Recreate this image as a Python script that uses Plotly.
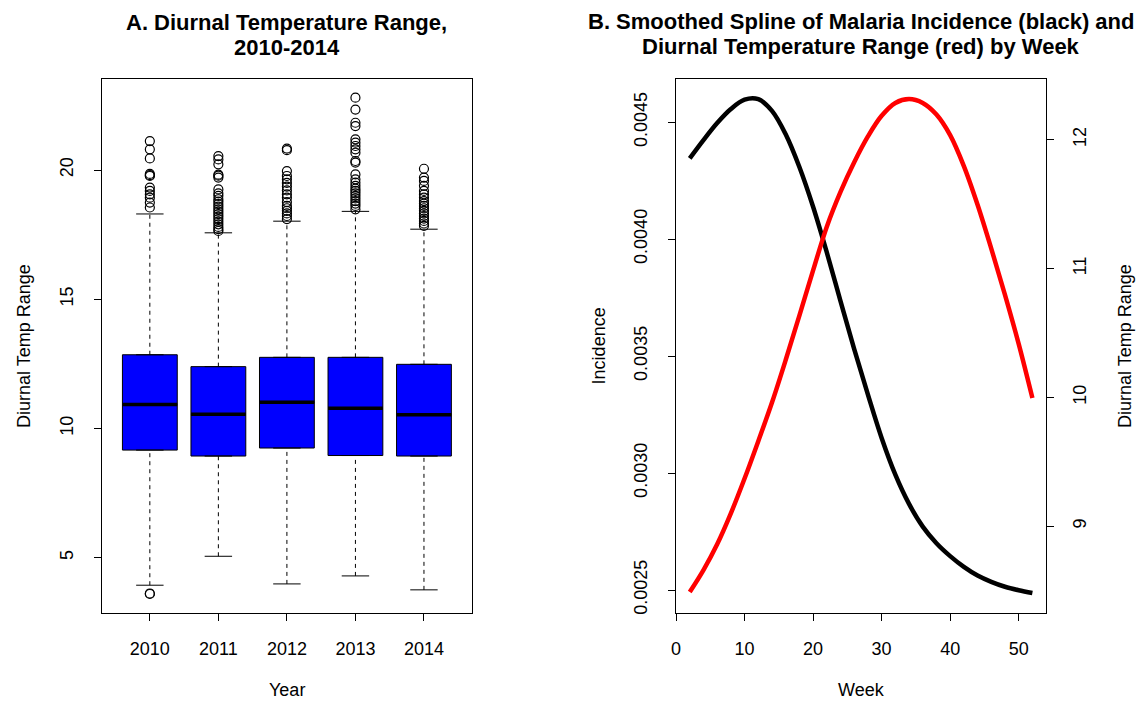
import plotly.graph_objects as go

# ---- panel A: diurnal temperature range by year (boxplot stats)
years = ["2010", "2011", "2012", "2013", "2014"]
q1 = [9.16, 8.93, 9.24, 8.95, 8.93]
median = [10.92, 10.55, 11.01, 10.78, 10.53]
q3 = [12.85, 12.39, 12.75, 12.75, 12.48]
lower_whisker = [3.93, 5.05, 3.98, 4.29, 3.75]
upper_whisker = [18.30, 17.57, 18.02, 18.40, 17.71]

outliers_2010 = [21.12, 20.80, 20.45, 19.85, 19.80, 19.77, 19.32, 19.19, 19.06, 18.93,
                 18.74, 18.55, 3.61, 3.59]
outliers_2011 = [20.54, 20.41, 20.22, 19.82, 19.78, 19.71, 19.25, 19.10, 19.00, 18.87,
                 18.78, 18.68, 18.58, 18.48, 18.39, 18.29, 18.20, 18.10, 18.00, 17.90,
                 17.80, 17.71, 17.64]
outliers_2012 = [20.83, 20.77, 19.96, 19.77, 19.64, 19.50, 19.36, 19.21, 19.06, 18.93,
                 18.76, 18.61, 18.52, 18.42, 18.32, 18.22, 18.10]
outliers_2013 = [22.80, 22.34, 21.83, 21.70, 21.19, 21.06, 20.93, 20.80, 20.67, 20.35,
                 20.29, 19.83, 19.64, 19.51, 19.39, 19.28, 19.19, 19.10, 19.00, 18.90,
                 18.80, 18.70, 18.61, 18.48]
outliers_2014 = [20.05, 19.71, 19.58, 19.39, 19.19, 19.06, 18.93, 18.80, 18.70, 18.61,
                 18.52, 18.42, 18.32, 18.22, 18.12, 18.03, 17.93, 17.84]
outliers = [outliers_2010, outliers_2011, outliers_2012, outliers_2013, outliers_2014]

# ---- panel B: smoothed splines by week
weeks = [2, 4, 6, 8, 10, 12, 14, 16, 18, 20, 22, 24, 26,
         28, 30, 32, 34, 36, 38, 40, 42, 44, 46, 48, 50, 52]
incidence = [0.004345, 0.004423, 0.004496, 0.004556, 0.004596, 0.004598, 0.004548,
             0.004448, 0.004308, 0.004138, 0.003943, 0.003735, 0.003530, 0.003335,
             0.003150, 0.002993, 0.002868, 0.002771, 0.002700, 0.002645, 0.002599,
             0.002562, 0.002535, 0.002514, 0.002499, 0.002487]
dtr = [8.49, 8.66, 8.86, 9.10, 9.37, 9.66, 9.96, 10.29, 10.635, 10.985, 11.325, 11.595,
       11.825, 12.025, 12.185, 12.285, 12.315, 12.285, 12.195, 12.035, 11.795, 11.495,
       11.155, 10.795, 10.415, 9.995]

FONT = "Liberation Sans, Arial, sans-serif"
W, H = 1136, 705


def px(x):
    return x / W


def py(y):
    return 1 - y / H


fig = go.Figure()
pos = list(range(len(years)))

# boxes (whiskers drawn separately so they can be dashed)
fig.add_trace(go.Box(
    x=pos, q1=q1, median=median, q3=q3, lowerfence=q1, upperfence=q3,
    width=0.8, fillcolor="#0000ff", line=dict(color="black", width=1),
    boxpoints=False, hoverinfo="skip", xaxis="x", yaxis="y", showlegend=False))

wx, wy, sx, sy, mx, my = [], [], [], [], [], []
for i in pos:
    wx += [i, i, None, i, i, None]
    wy += [lower_whisker[i], q1[i], None, q3[i], upper_whisker[i], None]
    sx += [i - 0.2, i + 0.2, None, i - 0.2, i + 0.2, None]
    sy += [lower_whisker[i], lower_whisker[i], None, upper_whisker[i], upper_whisker[i], None]
    mx += [i - 0.4, i + 0.4, None]
    my += [median[i], median[i], None]

fig.add_trace(go.Scatter(x=wx, y=wy, mode="lines", line=dict(color="black", width=1, dash="4px,4px"),
                         xaxis="x", yaxis="y", showlegend=False, hoverinfo="skip"))
fig.add_trace(go.Scatter(x=sx, y=sy, mode="lines", line=dict(color="black", width=1),
                         xaxis="x", yaxis="y", showlegend=False, hoverinfo="skip"))
fig.add_trace(go.Scatter(x=mx, y=my, mode="lines", line=dict(color="black", width=3.5),
                         xaxis="x", yaxis="y", showlegend=False, hoverinfo="skip"))

ox, oy = [], []
for i in pos:
    ox += [i] * len(outliers[i])
    oy += outliers[i]
fig.add_trace(go.Scatter(x=ox, y=oy, mode="markers",
                         marker=dict(symbol="circle-open", size=9, color="black", line=dict(width=1.2)),
                         xaxis="x", yaxis="y", showlegend=False))

# spline curves
fig.add_trace(go.Scatter(x=weeks, y=incidence, mode="lines", line=dict(color="black", width=4.5, shape="spline"),
                         xaxis="x2", yaxis="y2", showlegend=False))
fig.add_trace(go.Scatter(x=weeks, y=dtr, mode="lines", line=dict(color="#ff0000", width=4.5, shape="spline"),
                         xaxis="x2", yaxis="y3", showlegend=False))

ydom = [py(614.7), py(78.8)]
axis_style = dict(showline=True, linecolor="black", linewidth=1, ticks="outside", ticklen=7,
                  tickcolor="black", showgrid=False, zeroline=False,
                  tickfont=dict(family=FONT, size=18, color="black"))

fig.update_layout(
    width=W, height=H, margin=dict(l=0, r=0, t=0, b=0),
    paper_bgcolor="white", plot_bgcolor="white",
    xaxis=dict(domain=[px(97.3), px(469)], range=[-0.7, 4.7], tickvals=pos, ticktext=years,
               mirror=True, anchor="y", ticklabelstandoff=12, **axis_style),
    yaxis=dict(domain=ydom, range=[2.856, 23.54], tickvals=[5, 10, 15, 20], tickangle=-90,
               mirror=True, anchor="x", ticklabelstandoff=14, **axis_style),
    xaxis2=dict(domain=[px(674), px(1045.7)], range=[0, 54], tickvals=[0, 10, 20, 30, 40, 50],
                mirror=True, anchor="y2", ticklabelstandoff=12, **axis_style),
    yaxis2=dict(domain=ydom, range=[0.002402, 0.004686],
                tickvals=[0.0025, 0.0030, 0.0035, 0.0040, 0.0045], tickformat=".4f",
                tickangle=-90, mirror=True, anchor="x2", ticklabelstandoff=14, **axis_style),
    yaxis3=dict(overlaying="y2", side="right", anchor="x2", range=[8.327, 12.474],
                tickvals=[9, 10, 11, 12], tickangle=-90, ticklabelstandoff=10, **axis_style),
)

bold = dict(family=FONT, size=22, color="black")
lab = dict(family=FONT, size=18, color="black")
notes = [
    ("<b>A. Diurnal Temperature Range,</b>", 283, 23, 0, bold),
    ("<b>2010-2014</b>", 283, 48, 0, bold),
    ("<b>B. Smoothed Spline of Malaria Incidence (black) and</b>", 860, 22, 0, bold),
    ("<b>Diurnal Temperature Range (red) by Week</b>", 860, 47, 0, bold),
    ("Year", 283, 692, 0, lab),
    ("Week", 860, 692, 0, lab),
    ("Diurnal Temp Range", 19, 347, -90, lab),
    ("Incidence", 597, 347, -90, lab),
    ("Diurnal Temp Range", 1125, 347, -90, lab),
]
for text, x, y, ang, f in notes:
    fig.add_annotation(text=text, x=px(x), y=py(y), xref="paper", yref="paper",
                       xanchor="center", yanchor="middle", showarrow=False,
                       textangle=ang, font=f)

fig.write_html("out.html", config={"displayModeBar": False},
               post_script="document.body.style.margin='0';document.body.style.overflow='hidden';")
